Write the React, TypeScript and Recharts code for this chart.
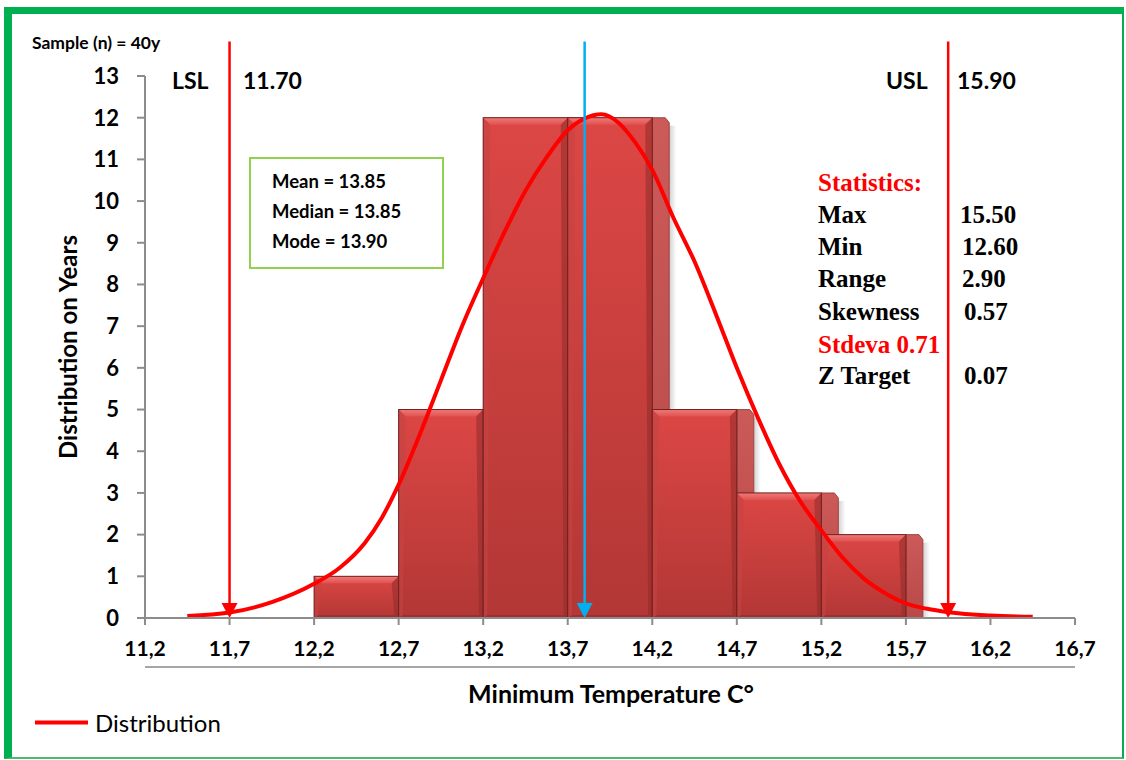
import {
  ComposedChart,
  Line,
  XAxis,
  YAxis,
  ReferenceArea,
  ReferenceLine,
} from "recharts";

// axis ticks
const xTicks = [11.2, 11.7, 12.2, 12.7, 13.2, 13.7, 14.2, 14.7, 15.2, 15.7, 16.2, 16.7];
const yTicks = [0, 1, 2, 3, 4, 5, 6, 7, 8, 9, 10, 11, 12, 13];

// histogram bins
const binStart = [12.2, 12.7, 13.2, 13.7, 14.2, 14.7, 15.2];
const binEnd = [12.7, 13.2, 13.7, 14.2, 14.7, 15.2, 15.7];
const binCount = [1, 5, 12, 12, 5, 3, 2];

// distribution curve
const curveTemp = [
  11.45, 11.7, 11.95, 12.2, 12.35, 12.5, 12.6, 12.7, 12.825, 12.95, 13.075, 13.2, 13.325, 13.45,
  13.575, 13.7, 13.8, 13.9, 14.0, 14.1, 14.2, 14.325, 14.45, 14.575, 14.7, 14.825, 14.95, 15.075,
  15.2, 15.325, 15.45, 15.575, 15.7, 15.825, 15.95, 16.2, 16.45,
];
const curveValue = [
  0.05, 0.13, 0.38, 0.82, 1.2, 1.8, 2.4, 3.2, 4.4, 5.7, 7.0, 8.15, 9.25, 10.25,
  11.05, 11.7, 11.98, 12.08, 11.88, 11.4, 10.75, 9.6, 8.55, 7.3, 6.0, 4.8, 3.7, 2.8,
  2.1, 1.45, 0.95, 0.6, 0.35, 0.22, 0.14, 0.06, 0.03,
];

// spec limits and centre line
const lslValue = 11.7;
const uslValue = 15.95;
const centerValue = 13.8;
const lineTop = 13.83;

// annotations
const specText = { lsl: "LSL", lslNum: "11.70", usl: "USL", uslNum: "15.90" };
const meanLines = ["Mean = 13.85", "Median = 13.85", "Mode = 13.90"];
const statNames = ["Max", "Min", "Range", "Skewness", "Stdeva 0.71", "Z Target"];
const statValues = ["15.50", "12.60", "2.90", "0.57", "", "0.07"];

const chartData = curveTemp.map((t, i) => ({ t, density: curveValue[i] }));

const SANS = "Lato, 'Open Sans', sans-serif";
const SERIF = "'Liberation Serif', 'DejaVu Serif', serif";

function fmtTick(v: number) {
  return v.toFixed(1).replace(".", ",");
}

// 3D-ish bar like the Excel bevel look
const Bar3D = (props: any) => {
  const { x, y, width, height } = props;
  if (height <= 0) return <g />;
  const depth = 17;
  const bev = 7;
  const r = x + width;
  const b = y + height;
  return (
    <g>
      <rect x={r + depth} y={y + 8} width={7} height={height - 8} fill="url(#barShadow)" />
      <polygon
        points={`${r},${y} ${r + depth - 4},${y} ${r + depth},${y + 5} ${r + depth},${b} ${r},${b}`}
        fill="url(#sideGrad)"
        stroke="#8e3434"
        strokeWidth={0.8}
      />
      <rect x={x} y={y} width={width} height={height} fill="url(#frontGrad)" />
      <polygon
        points={`${x},${y} ${r},${y} ${r - bev},${y + bev} ${x + bev},${y + bev}`}
        fill="url(#topBevel)"
      />
      <polygon
        points={`${x},${y} ${x + bev},${y + bev} ${x + bev * 0.6},${b - 3} ${x},${b}`}
        fill="#c44442"
        opacity={0.6}
      />
      <polygon
        points={`${r},${y} ${r - bev},${y + bev} ${r - bev * 0.6},${b - 3} ${r},${b}`}
        fill="#8f2b2a"
        opacity={0.55}
      />
      <polygon
        points={`${x},${b} ${x + bev * 0.6},${b - 3} ${r - bev * 0.6},${b - 3} ${r},${b}`}
        fill="#8a2827"
        opacity={0.5}
      />
      <rect x={x} y={y} width={width} height={height} fill="none" stroke="#6e2020" strokeWidth={1} />
    </g>
  );
};

const arrowShape = (color: string) => (props: any) => {
  const { x1, y1, x2, y2 } = props;
  const head = 15;
  const w = 8;
  return (
    <g>
      <line x1={x1} y1={y1} x2={x2} y2={y2 - head + 2} stroke={color} strokeWidth={2.5} />
      <polygon points={`${x2 - w},${y2 - head} ${x2 + w},${y2 - head} ${x2},${y2}`} fill={color} />
    </g>
  );
};

export default function App() {
  const statBaselines = [223, 255, 287, 320, 353, 384];
  const statValueX = [960, 962, 962, 964, 964, 964];

  return (
    <div
      style={{
        position: "absolute",
        left: 0,
        top: 0,
        width: 1126,
        height: 760,
        background: "#fff",
        overflow: "hidden",
      }}
    >
      <div
        style={{
          position: "absolute",
          left: 4,
          top: 7,
          width: 1120,
          height: 752,
          boxSizing: "border-box",
          borderTop: "7px solid #00b050",
          borderLeft: "8px solid #00b050",
          borderRight: "2px solid #00b050",
          borderBottom: "2px solid #4fb874",
        }}
      />
      <div style={{ position: "absolute", left: 0, top: 0 }}>
        <ComposedChart
          width={1126}
          height={760}
          data={chartData}
          margin={{ top: 76, right: 51, bottom: 92, left: 85 }}
        >
          <defs>
            <linearGradient id="frontGrad" x1="0" y1="0" x2="0" y2="1">
              <stop offset="0%" stopColor="#dc4745" />
              <stop offset="100%" stopColor="#b23735" />
            </linearGradient>
            <linearGradient id="topBevel" x1="0" y1="0" x2="0" y2="1">
              <stop offset="0%" stopColor="#f07a78" />
              <stop offset="100%" stopColor="#df5250" />
            </linearGradient>
            <linearGradient id="sideGrad" x1="0" y1="0" x2="0" y2="1">
              <stop offset="0%" stopColor="#cb5a59" />
              <stop offset="100%" stopColor="#b84947" />
            </linearGradient>
            <linearGradient id="barShadow" x1="0" y1="0" x2="1" y2="0">
              <stop offset="0%" stopColor="#000" stopOpacity={0.18} />
              <stop offset="100%" stopColor="#000" stopOpacity={0} />
            </linearGradient>
          </defs>
          <XAxis
            dataKey="t"
            type="number"
            domain={[11.2, 16.7]}
            ticks={xTicks}
            interval={0}
            tickFormatter={fmtTick}
            height={50}
            tickSize={7}
            tickMargin={16}
            axisLine={{ stroke: "#8c8c8c", strokeWidth: 2 }}
            tickLine={{ stroke: "#8c8c8c", strokeWidth: 2 }}
            tick={{ fill: "#000", fontSize: 21, fontWeight: 700, fontFamily: SANS }}
          />
          <YAxis
            type="number"
            domain={[0, 13]}
            ticks={yTicks}
            interval={0}
            width={60}
            tickSize={8}
            tickMargin={18}
            axisLine={{ stroke: "#8c8c8c", strokeWidth: 2 }}
            tickLine={{ stroke: "#8c8c8c", strokeWidth: 2 }}
            tick={{ fill: "#000", fontSize: 22, fontWeight: 700, fontFamily: SANS }}
          />
          {binStart.map((s, i) => (
            <ReferenceArea
              key={s}
              x1={s}
              x2={binEnd[i]}
              y1={0}
              y2={binCount[i]}
              shape={Bar3D}
            />
          ))}
          <Line
            type="monotone"
            dataKey="density"
            stroke="#ff0000"
            strokeWidth={4}
            dot={false}
            activeDot={false}
            isAnimationActive={false}
          />
          <ReferenceLine
            segment={[
              { x: lslValue, y: lineTop },
              { x: lslValue, y: 0 },
            ]}
            ifOverflow="visible"
            shape={arrowShape("#ff0000")}
          />
          <ReferenceLine
            segment={[
              { x: uslValue, y: lineTop },
              { x: uslValue, y: 0 },
            ]}
            ifOverflow="visible"
            shape={arrowShape("#ff0000")}
          />
          <ReferenceLine
            segment={[
              { x: centerValue, y: lineTop },
              { x: centerValue, y: 0 },
            ]}
            ifOverflow="visible"
            shape={arrowShape("#00b0f0")}
          />
        </ComposedChart>
      </div>
      <svg
        width={1126}
        height={760}
        style={{ position: "absolute", left: 0, top: 0, pointerEvents: "none" }}
      >
        <line x1={145} x2={1075} y1={667} y2={667} stroke="#a6a6a6" strokeWidth={2} />
        <text x={32} y={49} fontFamily={SANS} fontWeight={700} fontSize={17.5} fill="#000">
          Sample (n) = 40y
        </text>
        <g fontFamily={SANS} fontWeight={700} fontSize={23} fill="#000">
          <text x={172} y={89}>{specText.lsl}</text>
          <text x={243} y={89}>{specText.lslNum}</text>
          <text x={886} y={89}>{specText.usl}</text>
          <text x={957} y={89}>{specText.uslNum}</text>
        </g>
        <rect x={250} y={158} width={193} height={110} fill="#fff" stroke="#92d050" strokeWidth={2} />
        <g fontFamily={SANS} fontWeight={700} fontSize={18.5} fill="#000">
          {meanLines.map((m, i) => (
            <text key={m} x={272} y={188 + i * 30}>
              {m}
            </text>
          ))}
        </g>
        <g fontFamily={SERIF} fontWeight={700} fontSize={25}>
          <text x={818} y={191} fill="#ff0000">
            Statistics:
          </text>
          {statNames.map((n, i) => (
            <text key={n} x={818} y={statBaselines[i]} fill={n.startsWith("Stdeva") ? "#ff0000" : "#000"}>
              {n}
            </text>
          ))}
          {statValues.map((v, i) =>
            v ? (
              <text key={i} x={statValueX[i]} y={statBaselines[i]} fill="#000">
                {v}
              </text>
            ) : null
          )}
        </g>
        <text
          x={77}
          y={347}
          transform="rotate(-90 77 347)"
          textAnchor="middle"
          fontFamily={SANS}
          fontWeight={700}
          fontSize={24}
          fill="#000"
        >
          Distribution on Years
        </text>
        <text
          x={611}
          y={703}
          textAnchor="middle"
          fontFamily={SANS}
          fontWeight={700}
          fontSize={25}
          fill="#000"
        >
          Minimum Temperature C°
        </text>
        <line x1={35} x2={88} y1={722.5} y2={722.5} stroke="#ff0000" strokeWidth={4} />
        <text x={95} y={732} fontFamily={SANS} fontSize={24} fill="#000">
          Distribution
        </text>
      </svg>
    </div>
  );
}
